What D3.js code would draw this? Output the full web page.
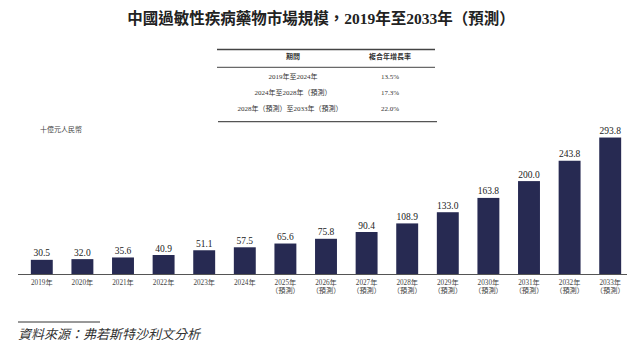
<!DOCTYPE html>
<html><head><meta charset="utf-8">
<script src="https://cdn.jsdelivr.net/npm/d3@7/dist/d3.min.js"></script>
<style>
body{margin:0;background:#fff;}
svg{display:block;}
</style></head>
<body>
<script>
const years = ["2019年","2020年","2021年","2022年","2023年","2024年","2025年","2026年","2027年","2028年","2029年","2030年","2031年","2032年","2033年"];
const forecast = [false,false,false,false,false,false,true,true,true,true,true,true,true,true,true];
const values = [30.5,32.0,35.6,40.9,51.1,57.5,65.6,75.8,90.4,108.9,133.0,163.8,200.0,243.8,293.8];
const periods = ["2019年至2024年","2024年至2028年（預測）","2028年（預測）至2033年（預測）"];
const cagr = ["13.5%","17.3%","22.0%"];
const title = "中國過敏性疾病藥物市場規模，2019年至2033年（預測）";
const unit = "十億元人民幣";
const source = "資料來源：弗若斯特沙利文分析";

const W = 640, H = 354;
const FONT = "'Liberation Serif','Noto Sans CJK TC',serif";
const svg = d3.select("body").append("svg").attr("width", W).attr("height", H)
  .style("font-family", FONT);

svg.append("text").attr("x", 321).attr("y", 24).attr("text-anchor", "middle")
  .attr("font-size", 15.5).attr("font-weight", "bold").attr("fill", "#222").text(title);

// table
const tbl = svg.append("g");
tbl.append("line").attr("x1", 217).attr("x2", 435).attr("y1", 49.5).attr("y2", 49.5).attr("stroke", "#444").attr("stroke-width", 1.3);
tbl.append("line").attr("x1", 217).attr("x2", 435).attr("y1", 67.3).attr("y2", 67.3).attr("stroke", "#444").attr("stroke-width", 1);
tbl.append("line").attr("x1", 218).attr("x2", 437).attr("y1", 121.7).attr("y2", 121.7).attr("stroke", "#555").attr("stroke-width", 1.3);
tbl.append("text").attr("x", 293).attr("y", 58.5).attr("text-anchor", "middle").attr("font-size", 7).attr("font-weight", "bold").attr("fill", "#333").text("期間");
tbl.append("text").attr("x", 390).attr("y", 58.5).attr("text-anchor", "middle").attr("font-size", 7).attr("font-weight", "bold").attr("fill", "#333").text("複合年增長率");
const rowY = [78.5, 94.8, 110.8];
periods.forEach((p, i) => {
  tbl.append("text").attr("x", i === 2 ? 290 : 293).attr("y", rowY[i]).attr("text-anchor", "middle").attr("font-size", 7).attr("fill", "#333").text(p);
  tbl.append("text").attr("x", 390).attr("y", rowY[i]).attr("text-anchor", "middle").attr("font-size", 7).attr("fill", "#333").text(cagr[i]);
});

svg.append("text").attr("x", 40).attr("y", 131.5).attr("font-size", 7).attr("fill", "#444").text(unit);

const x = d3.scaleBand().domain(years).range([21.5, 630.5]).paddingInner(0.46).paddingOuter(0.23);
const y = d3.scaleLinear().domain([0, 300]).range([274, 274 - 300 * 0.4645]);

svg.append("g").selectAll("rect").data(values).join("rect")
  .attr("x", (d, i) => x(years[i])).attr("width", x.bandwidth())
  .attr("y", d => y(d)).attr("height", d => y(0) - y(d))
  .attr("fill", "#272a52");

svg.append("g").selectAll("text").data(values).join("text")
  .attr("x", (d, i) => x(years[i]) + x.bandwidth() / 2).attr("y", d => y(d) - 3.5)
  .attr("text-anchor", "middle").attr("font-size", 9.5).attr("fill", "#222")
  .text(d => d.toFixed(1));

const axis = svg.append("g").attr("transform", `translate(0,${y(0)})`)
  .call(d3.axisBottom(x).tickSize(0).tickSizeOuter(0).tickPadding(0));
axis.select(".domain").attr("stroke", "#555").attr("stroke-width", 1)
  .attr("d", `M18,0.5H627`);
axis.selectAll(".tick text").attr("font-family", FONT).attr("font-size", 7.2).attr("fill", "#444")
  .each(function(d, i) {
    const t = d3.select(this).text(null).attr("dy", null).attr("y", 0);
    t.append("tspan").attr("x", 0).attr("y", 10.5).text(d);
    if (forecast[i]) t.append("tspan").attr("x", 0).attr("y", 18.5).text("（預測）");
  });

svg.append("line").attr("x1", 18).attr("x2", 100).attr("y1", 322).attr("y2", 322).attr("stroke", "#333").attr("stroke-width", 1);
svg.append("text").attr("x", 18).attr("y", 338.5).attr("font-size", 13).attr("font-style", "italic").attr("fill", "#333").text(source);
</script>
</body></html>
